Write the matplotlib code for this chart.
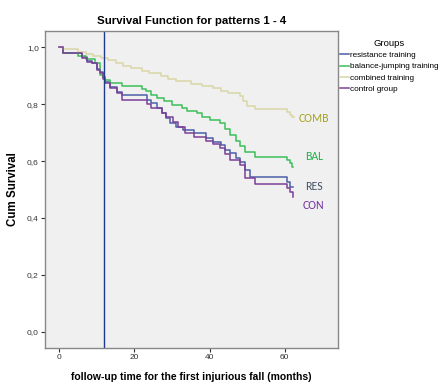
import matplotlib
matplotlib.use("Agg")
from matplotlib import pyplot as plt
from matplotlib.ticker import FuncFormatter

# Kaplan-Meier steps (months, cumulative survival)
res_t = [0, 1, 6, 7.3, 8.6, 10, 10.8, 11.7, 12.2, 13.5, 15.3, 16.6, 23.3, 24.5, 26, 27.3,
         28.5, 29.5, 31, 33, 36, 39, 41, 43, 44, 45.5, 47, 48, 49.4, 50.8, 60.5, 61.5, 62.3]
res_s = [1.0, 0.979, 0.964, 0.952, 0.946, 0.925, 0.912, 0.897, 0.879, 0.862, 0.843, 0.832,
         0.815, 0.803, 0.786, 0.768, 0.750, 0.733, 0.720, 0.708, 0.697, 0.680, 0.668, 0.656,
         0.640, 0.627, 0.610, 0.598, 0.569, 0.543, 0.528, 0.510, 0.510]

bal_t = [0, 1, 5, 7, 9.5, 10.8, 11.7, 12.2, 13.5, 16.6, 21.9, 23, 24.5, 26, 28, 30, 32.6,
         34, 36.6, 38, 40, 42.8, 44, 45.5, 47, 48, 49.5, 52.1, 60.6, 61.5, 62, 62.3]
bal_s = [1.0, 0.979, 0.970, 0.960, 0.944, 0.902, 0.895, 0.885, 0.875, 0.864, 0.855, 0.846,
         0.832, 0.822, 0.810, 0.798, 0.786, 0.776, 0.768, 0.756, 0.745, 0.733, 0.712, 0.692,
         0.672, 0.652, 0.633, 0.615, 0.605, 0.592, 0.578, 0.578]

comb_t = [0, 1, 5, 7, 9, 11, 13, 15, 17, 19, 22, 24, 27, 29, 31, 35, 38, 41, 43, 45, 48,
          49, 50, 52, 60.5, 61.5, 62, 62.5]
comb_s = [1.0, 0.993, 0.985, 0.978, 0.970, 0.963, 0.955, 0.945, 0.935, 0.926, 0.918, 0.909,
          0.900, 0.890, 0.880, 0.872, 0.865, 0.857, 0.848, 0.838, 0.828, 0.810, 0.792, 0.782,
          0.772, 0.762, 0.756, 0.756]

con_t = [0, 1, 6, 7.3, 8.6, 10, 10.8, 11.7, 12.2, 13.5, 15.3, 16.6, 23.3, 24.5, 27.3, 28.5,
         30.3, 31.5, 33.5, 36, 39, 41, 42.8, 44, 45.5, 48, 49.4, 52, 60.5, 61.5, 62.3]
con_s = [1.0, 0.979, 0.961, 0.949, 0.944, 0.920, 0.909, 0.890, 0.873, 0.856, 0.838, 0.815,
         0.800, 0.786, 0.768, 0.756, 0.738, 0.721, 0.700, 0.686, 0.672, 0.660, 0.645, 0.625,
         0.604, 0.585, 0.539, 0.519, 0.505, 0.490, 0.475]

group_names = ["resistance training", "balance-jumping training", "combined training", "control group"]
short_names = ["RES", "BAL", "COMB", "CON"]
label_y = [0.51, 0.615, 0.748, 0.445]
cutoff_month = 12

line_colors = ["#4b5ea6", "#3cbf5a", "#d9d7a6", "#7d3f98"]
label_colors = ["#44546a", "#22b14c", "#a5a21e", "#7030a0"]

plt.rcParams["font.family"] = ["Liberation Sans", "DejaVu Sans"]

fig = plt.figure(figsize=(4.39, 3.82), dpi=100)
ax = fig.add_axes([0.1025, 0.0898, 0.6665, 0.8282])
ax.set_facecolor("#f0f0f0")

series = [(res_t, res_s), (bal_t, bal_s), (comb_t, comb_s), (con_t, con_s)]
for (t, s), name, col in zip(series, group_names, line_colors):
    ax.plot(t, s, drawstyle="steps-post", color=col, lw=1.1, label=name)

for name, y, col in zip(short_names, label_y, label_colors):
    ax.text(67.8, y, name, color=col, fontsize=8.5, ha="center", va="center",
            family=["Carlito", "Liberation Sans", "DejaVu Sans"])

ax.axvline(cutoff_month, color="#1f3c88", lw=1)

ax.set_xlim(-3.8, 74.1)
ax.set_ylim(-0.056, 1.056)
ax.set_xticks([0, 20, 40, 60])
ax.set_yticks([0.0, 0.2, 0.4, 0.6, 0.8, 1.0])
ax.yaxis.set_major_formatter(FuncFormatter(lambda v, p: f"{v:.1f}".replace(".", ",")))
ax.tick_params(direction="out", length=3, width=0.8, labelsize=6, colors="#333333", pad=1.5)
for sp in ax.spines.values():
    sp.set_color("#888888")
    sp.set_linewidth(1)

ax.set_title("Survival Function for patterns 1 - 4", fontsize=8.2, fontweight="bold", pad=5)
ax.set_ylabel("Cum Survival", fontsize=8.3, fontweight="bold", labelpad=6)
ax.set_xlabel("follow-up time for the first injurious fall (months)", fontsize=7.5,
              fontweight="bold", labelpad=8)

leg = ax.legend(loc="upper left", bbox_to_anchor=(1.0, 0.985), frameon=False, title="Groups",
                fontsize=5.5, title_fontsize=6.8, handlelength=1.1, handletextpad=0.15,
                labelspacing=0.45, borderaxespad=0.1, borderpad=0.2,
                prop={"family": ["Liberation Sans Narrow", "Liberation Sans"], "size": 5.9})

fig.savefig("out.png", dpi=100)
